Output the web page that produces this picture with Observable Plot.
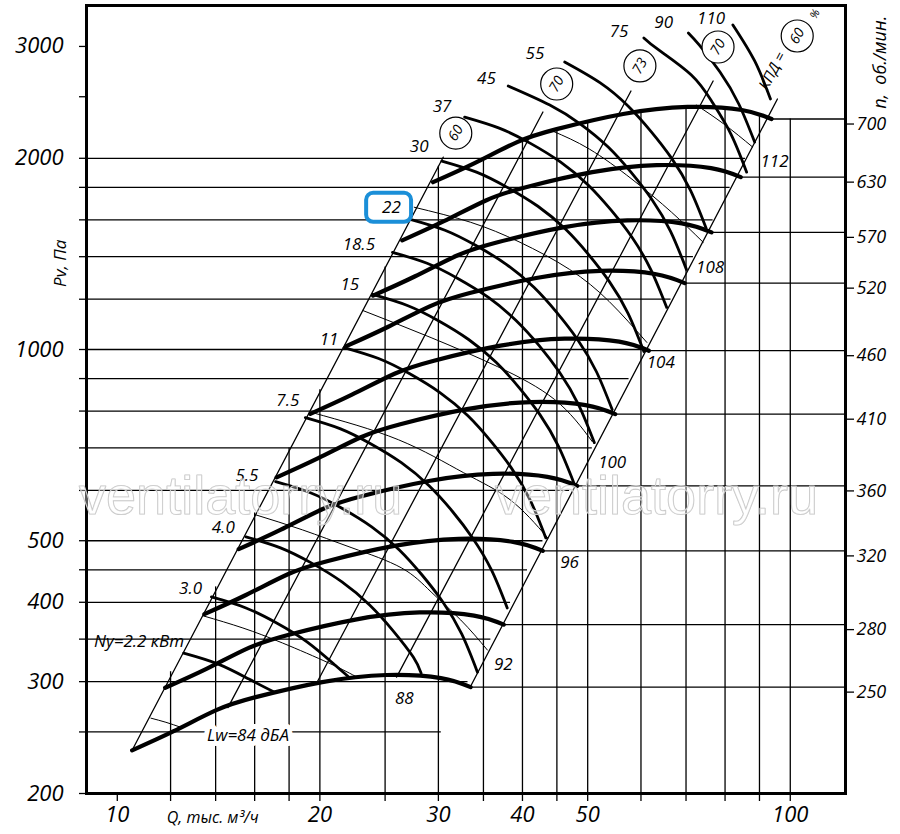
<!DOCTYPE html>
<html><head><meta charset="utf-8">
<script src="https://cdn.jsdelivr.net/npm/d3@7"></script>
<script src="https://cdn.jsdelivr.net/npm/@observablehq/plot@0.6"></script>
<style>
body{margin:0;background:#fff;}
#chart svg{overflow:visible;}
</style></head><body><div id="chart"></div>
<script>
// ---- fan speed characteristics n (об./мин.), points [Q тыс.м3/ч, Pv Па]
const speeds = [250, 280, 320, 360, 410, 460, 520, 570, 630, 700];
const n250 = [[10.52,233.9],[12.13,250.7],[14.03,270.5],[16.06,283.6],[20.16,299.5],[25.12,307.3],[30.26,303.9],[33.50,294.1]];
const n280 = [[11.78,293.4],[13.59,314.5],[15.71,339.3],[17.99,355.7],[22.58,375.7],[28.13,385.5],[33.89,381.2],[37.52,368.9]];
const n320 = [[13.47,383.2],[15.53,410.7],[17.96,443.2],[20.56,464.7],[25.80,490.7],[32.15,503.5],[38.73,497.9],[42.88,481.9]];
const n360 = [[15.15,485.0],[17.47,519.9],[20.20,560.9],[23.13,588.1],[29.03,621.0],[36.17,637.2],[43.57,630.2],[48.24,609.9]];
const n410 = [[17.25,629.1],[19.89,674.3],[23.01,727.5],[26.34,762.8],[33.06,805.5],[41.20,826.5],[49.63,817.4],[54.94,791.0]];
const n460 = [[19.36,791.9],[22.32,848.8],[25.82,915.8],[29.55,960.2],[37.09,1014],[46.22,1040],[55.68,1029],[61.64,995.7]];
const n520 = [[21.88,1012],[25.23,1085],[29.18,1170],[33.40,1227],[41.93,1296],[52.25,1330],[62.94,1315],[69.68,1272]];
const n570 = [[23.99,1216],[27.66,1303],[31.99,1406],[36.62,1474],[45.96,1557],[57.27,1597],[68.99,1580],[76.38,1529]];
const n630 = [[26.51,1485],[30.57,1592],[35.36,1718],[40.47,1801],[50.80,1902],[63.30,1951],[76.26,1930],[84.42,1868]];
const n700 = [[29.46,1834],[33.96,1965],[39.28,2121],[44.97,2223],[56.45,2348],[70.34,2409],[84.73,2383],[93.80,2306]];

// ---- motor power lines Ny, кВт
const powerNames = ["2.2","3.0","4.0","5.5","7.5","11","15","18.5","22","30","37","45","55","75","90","110"];
const pw2_2 = [[12.55,332.7],[14.13,319.7],[15.69,302.8],[17.13,288.7]];
const pw3_0 = [[13.80,407.8],[15.53,391.9],[17.25,371.1],[19.16,346.3],[21.06,318.6],[22.08,305.0]];
const pw4_0 = [[15.53,507.0],[17.48,487.3],[19.42,461.4],[21.57,430.7],[23.71,396.1],[25.64,361.7],[27.53,328.0],[28.28,309.4]];
const pw5_5 = [[17.19,619.4],[19.36,595.0],[21.50,563.5],[23.88,525.8],[26.25,483.6],[28.37,441.6],[30.46,400.5],[32.49,356.6],[34.29,310.5]];
const pw7_5 = [[19.03,781.2],[21.42,750.7],[23.79,710.7],[26.43,663.5],[29.06,610.3],[31.42,557.4],[33.72,505.1],[35.97,449.8],[37.97,391.9]];
const pw11 = [[21.72,1007],[24.45,967.8],[27.16,916.5],[30.16,855.4],[33.16,787.0],[35.84,718.6],[38.48,651.6],[41.05,580.0],[43.33,505.1]];
const pw15 = [[23.95,1221],[26.98,1173],[29.96,1111],[33.27,1037],[36.58,953.9],[39.54,871.2],[42.46,789.8],[45.27,703.1],[47.80,612.5]];
const pw18_5 = [[25.64,1422],[28.86,1367],[32.06,1294],[35.60,1208],[39.13,1111],[42.32,1015],[45.43,919.9],[48.45,818.9],[51.15,713.5]];
const pw22 = [[27.25,1603],[30.68,1541],[34.07,1459],[37.84,1362],[41.60,1253],[44.97,1144],[48.29,1037],[51.50,923.4],[54.37,804.3]];
const pw30 = [[30.36,1980],[34.18,1902],[37.97,1800],[42.17,1681],[46.37,1546],[50.12,1412],[53.82,1280],[57.40,1140],[60.59,992.8]];
const pw37 = [[32.82,2322],[36.94,2231],[41.05,2113],[45.59,1972],[50.12,1814],[54.18,1657],[58.18,1502],[62.03,1337],[65.51,1165]];
const pw45 = [[38.10,2599],[43.92,2426],[48.78,2264],[53.63,2083],[57.98,1902],[62.25,1724],[66.39,1535],[70.09,1337]];
const pw55 = [[46.21,2835],[52.20,2628],[57.40,2417],[62.03,2207],[66.61,2001],[71.05,1782],[74.99,1552]];
const pw75 = [[60.59,3094],[63.75,2962],[71.28,2705],[76.54,2453],[81.62,2184],[86.14,1902]];
const pw90 = [[70.56,3150],[73.22,3016],[78.63,2734],[83.85,2435],[88.53,2121]];
const pw110 = [[82.17,3243],[88.53,2846],[93.45,2480]];
const powerLabelText = ["Ny=2.2 кВт","3.0","4.0","5.5","7.5","11","15","18.5","22","30","37","45","55","75","90","110"];
const powerLabelQ = [10.77,12.85,14.37,15.58,17.92,20.64,22.16,22.85,25.55,28.09,30.38,35.36,41.74,55.67,64.85,76.28];
const powerLabelP = [347.5,419.8,523.9,632.8,831,1037,1266,1464,1675,2090,2417,2666,2919,3162,3267,3316];

// ---- sound power lines Lw, дБА
const lwNames = [84, 88, 92, 96, 100, 104, 108, 112];
const lw84 = [[11.22,262.8],[11.81,258.9],[12.42,254.3]];
const lw88 = [[13.43,380.7],[15.37,364.4],[17.60,345.1],[20.64,320.8],[22.85,303.9]];
const lw92 = [[16.06,549.2],[18.84,520.1],[22.32,487.3],[26.43,453.2],[29.26,415.3],[32.38,375.2],[35.48,336.4]];
const lw96 = [[19.49,795.5],[26.16,721.1],[32.71,639.7],[38.35,580.0],[43.62,505.1]];
const lw100 = [[23.16,1152],[29.26,1044],[36.70,940.2],[44.67,833.9],[50.80,716.0]];
const lw104 = [[27.62,1675],[33.50,1586],[39.67,1475],[46.99,1337],[53.82,1190],[61.22,1026]];
const lw108 = [[44.37,2207],[50.29,2068],[58.18,1854],[66.61,1645],[74.23,1475]];
const lw112 = [[72.50,2426],[79.70,2264],[87.93,2083]];
const lwLabelText = ["Lw=84 дБА","88","92","96","100","104","108","112"];
const lwLabelQ = [15.64,26.7,37.46,46.99,54.37,64.19,76.02,94.73];
const lwLabelP = [247.1,282.5,319.6,461.4,663.5,953.9,1347,1980];

// ---- efficiency (КПД) lines, %
const etaNames = ["60L","70L","73","70R","60R"];
const eta60L = [[10.52,233.9],[30.5,2008]];
const eta70L = [[14.6,273],[42.9,2365]];
const eta73 = [[19.8,299],[57.98,2553]];
const eta70R = [[26.0,305],[76.8,2647]];
const eta60R = [[33.5,295.1],[95.7,2480]];
const etaLabelText = ["60","70","73","70","60"];
const etaLabelQ = [31.84,44.97,59.78,78.10,102.4];
const etaLabelP = [2191,2618,2795,2994,3116];

// ---- grid
const hGridP = [250,300,350,400,450,500,600,700,800,900,1000,1200,1400,1600,1800,2000];
const hGridEndQ = [30.3,33.2,35.9,38.4,40.7,42.9,47.0,50.8,54.3,57.6,60.7,66.5,71.8,76.8,81.4,85.8];
const vGridQ = [12,14,16,18,20,25,30,35,40,45,50,60,70,80,90,100];
const vGridTopP = [311,423,553,700,864,1349,1943,1995,2134,2223,2278,2364,2408,2398,2338,2306];
const xTickValues = [10,12,14,16,18,20,25,30,35,40,45,50,60,70,80,90,100];
const xTickLabels = [10,20,30,40,50,100];
const yTickValues = [200,250,300,350,400,450,500,600,700,800,900,1000,1200,1400,1600,1800,2000,2500,3000];
const yTickLabels = [200,300,400,500,1000,2000,3000];

// ---- build tables
const toRows = (names, curves) => names.flatMap((name, i) => curves[i].map(([q, p]) => ({name, q, p})));
const nCurves = [n250,n280,n320,n360,n410,n460,n520,n570,n630,n700];
const nRows = toRows(speeds, nCurves);
const nEnds = nCurves.map((c, i) => ({n: speeds[i], q: c[c.length-1][0], p: c[c.length-1][1]}));
const nByP = new Map(nEnds.map(d => [d.p, String(d.n)]));
const powerRows = toRows(powerNames, [pw2_2,pw3_0,pw4_0,pw5_5,pw7_5,pw11,pw15,pw18_5,pw22,pw30,pw37,pw45,pw55,pw75,pw90,pw110]);
const lwRows = toRows(lwNames, [lw84,lw88,lw92,lw96,lw100,lw104,lw108,lw112]);
const etaRows = toRows(etaNames, [eta60L,eta70L,eta73,eta70R,eta60R]);
const powerLabels = powerLabelText.map((t, i) => ({t, q: powerLabelQ[i], p: powerLabelP[i]}));
const lwLabels = lwLabelText.map((t, i) => ({t, q: lwLabelQ[i], p: lwLabelP[i]}));
const etaLabels = etaLabelText.map((t, i) => ({t, q: etaLabelQ[i], p: etaLabelP[i]}));
const hGrid = hGridP.map((p, i) => ({p, end: hGridEndQ[i]}));
const vGrid = vGridQ.map((q, i) => ({q, top: vGridTopP[i]}));
const highlight = [{q1: 23.47, q2: 27.37, p1: 1586, p2: 1762}];
const watermark = [{t: "ventilatorry.ru", q: 15.25, p: 585.8}, {t: "ventilatorry.ru", q: 63.29, p: 585.8}];

const X0 = 9.0, X1 = 120.8;
const font = "'Open Sans', 'Noto Sans', sans-serif";

const chart = Plot.plot({
  width: 900, height: 834,
  marginLeft: 86, marginRight: 55, marginTop: 5, marginBottom: 41,
  x: {type: "log", domain: [X0, X1]},
  y: {type: "log", domain: [200, 3480]},
  style: {fontFamily: font, fontStyle: "italic", background: "white", color: "black"},
  marks: [
    // grid
    Plot.ruleY(hGrid, {y: "p", x1: X0, x2: "end", stroke: "black", strokeWidth: 1.3}),
    Plot.ruleX(vGrid, {x: "q", y1: 200, y2: "top", stroke: "black", strokeWidth: 1.3}),
    Plot.ruleY(nEnds, {y: "p", x1: "q", x2: X1, stroke: "black", strokeWidth: 1.3}),
    // efficiency lines
    Plot.line(etaRows, {x: "q", y: "p", z: "name", stroke: "black", strokeWidth: 1.3}),
    // sound lines
    Plot.line(lwRows, {x: "q", y: "p", z: "name", curve: "natural", stroke: "black", strokeWidth: 1}),
    // power lines
    Plot.line(powerRows, {x: "q", y: "p", z: "name", curve: "natural", stroke: "black", strokeWidth: 2.8}),
    // speed characteristics
    Plot.line(nRows, {x: "q", y: "p", z: "name", curve: "natural", stroke: "black", strokeWidth: 4.2}),
    // axes
    Plot.axisX({ticks: xTickValues, tickSize: 8, tickPadding: 5, fontSize: 22, strokeWidth: 1.3,
      tickFormat: d => xTickLabels.includes(d) ? String(d) : "", label: null}),
    Plot.axisY({ticks: yTickValues, tickSize: 7, tickPadding: 16, fontSize: 22, strokeWidth: 1.3,
      tickFormat: d => yTickLabels.includes(d) ? String(d) : "", label: null}),
    Plot.axisY({anchor: "right", ticks: nEnds.map(d => d.p), tickSize: 8, tickPadding: 3, fontSize: 18, dy: 5,
      strokeWidth: 1.3, tickFormat: d => nByP.get(d), label: null}),
    Plot.frame({stroke: "black", strokeWidth: 3}),
    // labels
    Plot.text(powerLabels, {x: "q", y: "p", text: "t", fontSize: 17, fontStyle: "italic"}),
    Plot.rect(highlight, {x1: "q1", x2: "q2", y1: "p1", y2: "p2", fill: "white", stroke: "#1b8fd8", strokeWidth: 4, rx: 7}),
    Plot.text([powerLabels[8]], {x: "q", y: "p", text: "t", fontSize: 17, fontStyle: "italic"}),
    Plot.text(lwLabels.slice(0,1), {x: "q", y: "p", text: "t", fontSize: 17, fontStyle: "italic", stroke: "white", strokeWidth: 10, fill: "black"}),
    Plot.text(lwLabels.slice(1), {x: "q", y: "p", text: "t", fontSize: 17, fontStyle: "italic"}),
    Plot.dot(etaLabels, {x: "q", y: "p", r: 16, fill: "white", stroke: "black", strokeWidth: 1.2}),
    Plot.text(etaLabels, {x: "q", y: "p", text: "t", fontSize: 14, rotate: -60, fontStyle: "italic"}),
    Plot.text([{t: "КПД =", q: 94.08, p: 2745}], {x: "q", y: "p", text: "t", fontSize: 15, rotate: -62, fontStyle: "italic"}),
    Plot.text([{t: "%", q: 108.8, p: 3376}], {x: "q", y: "p", text: "t", fontSize: 11, rotate: -62}),
    Plot.text([{t: "Q, тыс. м³/ч", q: 13.86, p: 183.0}], {x: "q", y: "p", text: "t", fontSize: 16, fontStyle: "italic"}),
    Plot.text([{t: "Pv, Па", q: 8.24, p: 1367}], {x: "q", y: "p", text: "t", fontSize: 17, rotate: -90, fontStyle: "italic"}),
    Plot.text([{t: "n,  об./мин.", q: 136.2, p: 2832}], {x: "q", y: "p", text: "t", fontSize: 18, rotate: -90, fontStyle: "italic"}),
    // watermark
    Plot.text(watermark, {x: "q", y: "p", text: "t", fontSize: 54, fontFamily: "'Liberation Sans', sans-serif", fontStyle: "normal",
      fill: "white", fillOpacity: 0.35, stroke: "#c4c4c4", strokeWidth: 1.1})
  ]
});
document.getElementById("chart").appendChild(chart);
</script>
</body></html>
